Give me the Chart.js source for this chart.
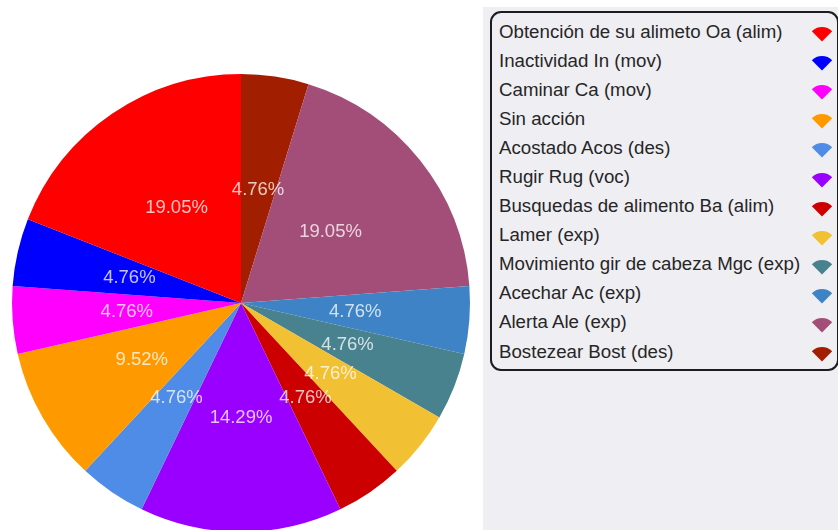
<!DOCTYPE html>
<html>
<head>
<meta charset="utf-8">
<script src="https://cdn.jsdelivr.net/npm/chart.js@4/dist/chart.umd.min.js"></script>
<style>
  html, body { margin:0; padding:0; background:#fff; }
  body { width:838px; height:530px; overflow:hidden; position:relative;
         font-family:"Liberation Sans", Arial, sans-serif; }
  #pie-wrap { position:absolute; left:0; top:0; width:483px; height:540px; }
  #panel { position:absolute; left:483px; top:7px; width:355px; height:523px; background:#efeef3; }
  #legend { position:absolute; left:490px; top:11px; width:349px; height:360px;
            box-sizing:border-box; border:2px solid #1c1c1c; border-radius:11px;
            padding:4px 4px 0 7px; }
  .leg-row { height:29.1px; display:flex; align-items:center; justify-content:space-between;
             font-size:18.7px; color:#262626; white-space:nowrap; }
  .leg-row svg { margin-top:5px; flex:none; }
</style>
</head>
<body>
<div id="pie-wrap"><canvas id="pie"></canvas></div>
<div id="panel"></div>
<div id="legend"></div>

<script>
/* ── DATA (legend order) ───────────────── */
const LABELS = [
  "Obtención de su alimeto Oa (alim)",
  "Inactividad In (mov)",
  "Caminar Ca (mov)",
  "Sin acción",
  "Acostado Acos (des)",
  "Rugir Rug (voc)",
  "Busquedas de alimento Ba (alim)",
  "Lamer (exp)",
  "Movimiento gir de cabeza Mgc (exp)",
  "Acechar Ac (exp)",
  "Alerta Ale (exp)",
  "Bostezear Bost (des)",
];
const VALUES = [4, 1, 1, 2, 1, 3, 1, 1, 1, 1, 4, 1];
const COLORS = [
  "#ff0000", "#0000ff", "#ff00ff", "#fe9a00", "#4e8ce8", "#9a00ff",
  "#cc0000", "#f2c033", "#49828f", "#3e83c6", "#a34e78", "#a21e00",
];

/* ── LEGEND (html, markers on the right) ─ */
const legend = document.getElementById('legend');
legend.innerHTML = LABELS.map((l, i) => `
  <div class="leg-row"><span>${l}</span>
    <svg width="22" height="16" viewBox="0 0 22 16">
      <path d="M11 15.5 L0.8 5.3 A14.4 14.4 0 0 1 21.2 5.3 Z" fill="${COLORS[i]}"/>
    </svg>
  </div>`).join('');

/* ── PIE ───────────────────────────────── */
// reference runs counter-clockwise from 12 o'clock, chart.js runs clockwise
const rev = a => [...a].reverse();
const total = VALUES.reduce((s, v) => s + v, 0);

const pctLabels = {
  id: 'pctLabels',
  afterDatasetsDraw(chart) {
    const ctx = chart.ctx;
    const data = chart.data.datasets[0].data;
    ctx.save();
    ctx.font = '18.5px "Liberation Sans", Arial, sans-serif';
    ctx.fillStyle = 'rgba(255,255,255,0.76)';
    ctx.textAlign = 'center';
    ctx.textBaseline = 'middle';
    chart.getDatasetMeta(0).data.forEach((arc, i) => {
      const p = arc.tooltipPosition();
      ctx.fillText((data[i] / total * 100).toFixed(2) + '%', p.x, p.y);
    });
    ctx.restore();
  }
};

new Chart(document.getElementById('pie'), {
  type: 'pie',
  data: {
    labels: rev(LABELS),
    datasets: [{
      data: rev(VALUES),
      backgroundColor: rev(COLORS),
      borderWidth: 0,
    }]
  },
  options: {
    responsive: true,
    maintainAspectRatio: false,
    animation: false,
    layout: { padding: { left:12, right:13, top:74, bottom:8 } },
    plugins: { legend: { display:false }, tooltip: { enabled:false } }
  },
  plugins: [pctLabels]
});
</script>
</body>
</html>
